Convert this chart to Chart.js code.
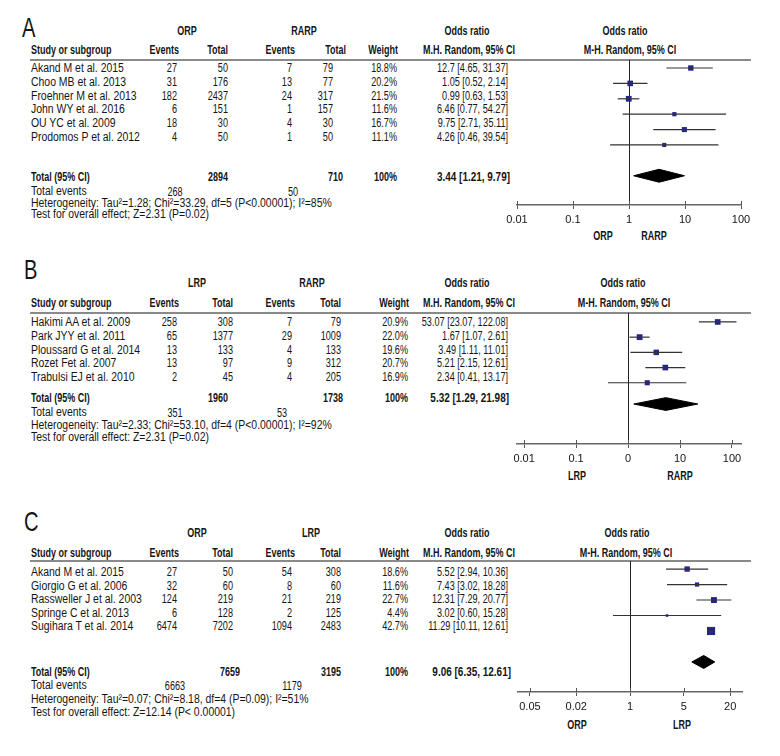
<!DOCTYPE html>
<html>
<head>
<meta charset="utf-8">
<script src="https://cdn.jsdelivr.net/npm/chart.js@4.4.0/dist/chart.umd.min.js"></script>
<style>
body { margin: 0; background: #fff; width: 780px; height: 756px; position: relative; overflow: hidden;
  font-family: "Liberation Sans", Arial, sans-serif; font-size: 12px; color: #151515; }
.t { position: absolute; white-space: nowrap; line-height: 14px; height: 14px; }
.b { font-weight: bold; font-size: 12px; }
.letter { position: absolute; font-size: 28px; line-height: 28px; transform: scaleX(0.72); transform-origin: left center; }
.rule { position: absolute; height: 2px; background: #8a8a8a; left: 30px; width: 721px; }
canvas { position: absolute; }
</style>
</head>
<body>
<script>
// ---- panel A : ORP vs RARP
const studiesA = ["Akand M et al. 2015", "Choo MB et al. 2013", "Froehner M et al. 2013", "John WY et al. 2016", "OU YC et al. 2009", "Prodomos P et al. 2012"]
const events1A = [27, 31, 182, 6, 18, 4]
const total1A = [50, 176, 2437, 151, 30, 50]
const events2A = [7, 13, 24, 1, 4, 1]
const total2A = [79, 77, 317, 157, 30, 50]
const weightA = [18.8, 20.2, 21.5, 11.6, 16.7, 11.1]
const orA = ["12.7", "1.05", "0.99", "6.46", "9.75", "4.26"]
const loA = ["4.65", "0.52", "0.63", "0.77", "2.71", "0.46"]
const hiA = ["31.37", "2.14", "1.53", "54.27", "35.11", "39.54"]
const sumTotalsA = [2894, 710]
const sumEventsA = [268, 50]
const pooledA = ["3.44", "1.21", "9.79"]
const hetA = "Heterogeneity: Tau²=1.28; Chi²=33.29, df=5 (P<0.00001); I²=85%"
const testA = "Test for overall effect; Z=2.31 (P=0.02)"
const tickValsA = [0.01, 0.1, 1, 10, 100]
const tickLabelsA = ["0.01", "0.1", "1", "10", "100"]

// ---- panel B : LRP vs RARP
const studiesB = ["Hakimi AA et al. 2009", "Park JYY et al. 2011", "Ploussard G et al. 2014", "Rozet Fet al. 2007", "Trabulsi EJ et al. 2010"]
const events1B = [258, 65, 13, 13, 2]
const total1B = [308, 1377, 133, 97, 45]
const events2B = [7, 29, 4, 9, 4]
const total2B = [79, 1009, 133, 312, 205]
const weightB = [20.9, 22.0, 19.6, 20.7, 16.9]
const orB = ["53.07", "1.67", "3.49", "5.21", "2.34"]
const loB = ["23.07", "1.07", "1.11", "2.15", "0.41"]
const hiB = ["122.08", "2.61", "11.01", "12.61", "13.17"]
const sumTotalsB = [1960, 1738]
const sumEventsB = [351, 53]
const pooledB = ["5.32", "1.29", "21.98"]
const hetB = "Heterogeneity: Tau²=2.33; Chi²=53.10, df=4 (P<0.00001); I²=92%"
const testB = "Test for overall effect: Z=2.31 (P=0.02)"
const tickValsB = [0.01, 0.1, 1, 10, 100]
const tickLabelsB = ["0.01", "0.1", "0", "10", "100"]

// ---- panel C : ORP vs LRP
const studiesC = ["Akand M et al. 2015", "Giorgio G et al. 2006", "Rassweller J et al. 2003", "Springe C et al. 2013", "Sugihara T et al. 2014"]
const events1C = [27, 32, 124, 6, 6474]
const total1C = [50, 60, 219, 128, 7202]
const events2C = [54, 8, 21, 2, 1094]
const total2C = [308, 60, 219, 125, 2483]
const weightC = [18.6, 11.6, 22.7, 4.4, 42.7]
const orC = ["5.52", "7.43", "12.31", "3.02", "11.29"]
const loC = ["2.94", "3.02", "7.29", "0.60", "10.11"]
const hiC = ["10.36", "18.28", "20.77", "15.28", "12.61"]
const sumTotalsC = [7659, 3195]
const sumEventsC = [6663, 1179]
const pooledC = ["9.06", "6.35", "12.61"]
const hetC = "Heterogeneity: Tau²=0.07; Chi²=8.18, df=4 (P=0.09); I²=51%"
const testC = "Test for overall effect: Z=12.14 (P< 0.00001)"
const tickValsC = [0.05, 0.2, 1, 5, 20]
const tickLabelsC = ["0.05", "0.02", "1", "5", "20"]

const FONT = '"Liberation Sans", Arial, sans-serif'
// squeeze factors to mimic the condensed face of the original
const NARROW = 0.87      // plain text
const NARROW_NUM = 0.76  // digit columns (the original has narrow figures)
const NARROW_BOLD = 0.75
const NARROW_BOLD_CI = 0.83

function put(text, x, y, align, bold, sx) {
  const d = document.createElement('div')
  d.className = 't' + (bold ? ' b' : '')
  d.textContent = text
  if (align === 'r') {
    d.style.left = (x - 300) + 'px'; d.style.width = '300px'; d.style.textAlign = 'right'
    d.style.transformOrigin = 'right center'
  } else if (align === 'c') {
    d.style.left = (x - 150) + 'px'; d.style.width = '300px'; d.style.textAlign = 'center'
    d.style.transformOrigin = 'center center'
  } else {
    d.style.left = x + 'px'
    d.style.transformOrigin = 'left center'
  }
  d.style.transform = 'scaleX(' + (sx || (bold ? NARROW_BOLD : NARROW)) + ')'
  d.style.top = (y - 7) + 'px'
  document.body.appendChild(d)
}

function drawTable(p, lay) {
  const l = document.createElement('div')
  l.className = 'letter'
  l.textContent = lay.letter
  l.style.left = lay.letterX + 'px'
  l.style.top = (lay.letterY - 14) + 'px'
  document.body.appendChild(l)

  put(p.groups[0], lay.groupX[0], lay.groupY, 'c', true)
  put(p.groups[1], lay.groupX[1], lay.groupY, 'c', true)
  put("Odds ratio", lay.odds1X, lay.groupY, 'c', true)
  put("Odds ratio", lay.odds2X, lay.groupY, 'c', true)

  put("Study or subgroup", 31, lay.headY, 'l', true)
  put("Events", lay.headR[0], lay.headY, 'r', true)
  put("Total", lay.headR[1], lay.headY, 'r', true)
  put("Events", lay.headR[2], lay.headY, 'r', true)
  put("Total", lay.headR[3], lay.headY, 'r', true)
  put("Weight", lay.headR[4], lay.headY, 'r', true)
  put("M.H. Random, 95% CI", 423, lay.headY, 'l', true)
  put("M-H. Random, 95% CI", lay.mh2X, lay.headY, 'c', true)

  const rule = document.createElement('div')
  rule.className = 'rule'
  rule.style.top = (lay.ruleY - 1) + 'px'
  document.body.appendChild(rule)

  p.studies.forEach((s, i) => {
    const y = lay.rowY0 + i * lay.rowDy
    put(s, 31, y, 'l')
    put(String(p.ev1[i]), lay.colR[0], y, 'r', false, NARROW_NUM)
    put(String(p.tot1[i]), lay.colR[1], y, 'r', false, NARROW_NUM)
    put(String(p.ev2[i]), lay.colR[2], y, 'r', false, NARROW_NUM)
    put(String(p.tot2[i]), lay.colR[3], y, 'r', false, NARROW_NUM)
    put(p.weight[i].toFixed(1) + '%', lay.colR[4], y, 'r', false, NARROW_NUM)
    put(p.or[i] + ' [' + p.lo[i] + ', ' + p.hi[i] + ']', lay.colR[5], y, 'r', false, NARROW_NUM)
  })

  put("Total (95% CI)", 31, lay.totalY, 'l', true)
  put(String(p.sumTotals[0]), lay.totR[0], lay.totalY, 'r', true)
  put(String(p.sumTotals[1]), lay.totR[1], lay.totalY, 'r', true)
  put("100%", lay.totR[2], lay.totalY, 'r', true)
  put(p.pooled[0] + ' [' + p.pooled[1] + ', ' + p.pooled[2] + ']', lay.totR[3], lay.totalY, 'r', true, NARROW_BOLD_CI)
  put("Total events", 31, lay.evY, 'l')
  put(String(p.sumEvents[0]), lay.evC[0], lay.evY + 1, 'c', false, NARROW_NUM)
  put(String(p.sumEvents[1]), lay.evC[1], lay.evY + 1, 'c', false, NARROW_NUM)
  put(p.het, 31, lay.hetY, 'l')
  put(p.test, 31, lay.testY, 'l')

  put(p.groups[0], lay.axisLabX[0], lay.axisLabY, 'c', true)
  put(p.groups[1], lay.axisLabX[1], lay.axisLabY, 'c', true)
}

const tickUp = {
  id: 'tickUp',
  afterDraw(c) {
    const s = c.scales.x, ctx = c.ctx
    ctx.save()
    ctx.strokeStyle = '#555'
    ctx.lineWidth = 1
    s.ticks.forEach(t => {
      const x = Math.round(s.getPixelForValue(t.value)) + 0.5
      ctx.beginPath()
      ctx.moveTo(x, s.top - 4)
      ctx.lineTo(x, s.top)
      ctx.stroke()
    })
    ctx.restore()
  }
}

function drawForest(p, lay) {
  const canvas = document.createElement('canvas')
  const w = (lay.areaR - lay.areaL) + 40
  const h = (lay.areaB - lay.areaT) + 10 + 30
  canvas.width = w
  canvas.height = h
  canvas.style.left = (lay.areaL - 20) + 'px'
  canvas.style.top = (lay.areaT - 10) + 'px'
  canvas.style.width = w + 'px'
  canvas.style.height = h + 'px'
  document.body.appendChild(canvas)

  const datasets = p.or.map((v, i) => ({
    type: 'line',
    data: [{ x: Number(p.lo[i]), y: i }, { x: Number(p.hi[i]), y: i }],
    borderColor: '#333', borderWidth: 1.2, pointRadius: 0, fill: false
  }))
  datasets.push({
    type: 'scatter',
    data: p.or.map((v, i) => ({ x: Number(v), y: i })),
    pointStyle: 'rect',
    pointRadius: p.weight.map(wt => 0.62 * Math.sqrt(wt) / Math.SQRT1_2),
    backgroundColor: '#25258a', borderColor: '#25258a', borderWidth: 0
  })
  const T = p.studies.length - 1 + lay.totalGap, dh = 0.42
  const est = Number(p.pooled[0]), lo = Number(p.pooled[1]), hi = Number(p.pooled[2])
  datasets.push({
    type: 'line',
    data: [{ x: lo, y: T }, { x: est, y: T - dh }, { x: hi, y: T }, { x: est, y: T + dh }, { x: lo, y: T }],
    borderColor: '#000', backgroundColor: '#000', borderWidth: 1, pointRadius: 0, tension: 0, fill: 'shape'
  })

  new Chart(canvas, {
    type: 'scatter',
    data: { datasets: datasets },
    options: {
      responsive: false,
      animation: false,
      events: [],
      layout: { padding: { left: 20, right: 20, top: 10, bottom: 0 } },
      plugins: { legend: { display: false }, tooltip: { enabled: false } },
      scales: {
        x: {
          type: 'logarithmic',
          min: lay.xMin, max: lay.xMax,
          afterBuildTicks: s => { s.ticks = p.tickVals.map(v => ({ value: v })) },
          afterFit: s => { s.height = 30 },
          ticks: {
            autoSkip: false, maxRotation: 0, padding: 4, color: '#151515',
            font: { family: FONT, size: 11 },
            callback: (v, i) => p.tickLabels[i]
          },
          grid: {
            color: ctx => (ctx.tick && ctx.tick.value === 1) ? '#222' : 'rgba(0,0,0,0)',
            lineWidth: 1, tickLength: 4, tickColor: '#555'
          },
          border: { display: true, color: '#666', width: 1.5 }
        },
        y: { type: 'linear', reverse: true, min: lay.yMin, max: lay.yMax, display: false }
      }
    },
    plugins: [tickUp]
  })
}

const panelA = { studies: studiesA, ev1: events1A, tot1: total1A, ev2: events2A, tot2: total2A, weight: weightA,
  or: orA, lo: loA, hi: hiA, sumTotals: sumTotalsA, sumEvents: sumEventsA, pooled: pooledA, het: hetA, test: testA,
  groups: ["ORP", "RARP"], tickVals: tickValsA, tickLabels: tickLabelsA }
const panelB = { studies: studiesB, ev1: events1B, tot1: total1B, ev2: events2B, tot2: total2B, weight: weightB,
  or: orB, lo: loB, hi: hiB, sumTotals: sumTotalsB, sumEvents: sumEventsB, pooled: pooledB, het: hetB, test: testB,
  groups: ["LRP", "RARP"], tickVals: tickValsB, tickLabels: tickLabelsB }
const panelC = { studies: studiesC, ev1: events1C, tot1: total1C, ev2: events2C, tot2: total2C, weight: weightC,
  or: orC, lo: loC, hi: hiC, sumTotals: sumTotalsC, sumEvents: sumEventsC, pooled: pooledC, het: hetC, test: testC,
  groups: ["ORP", "LRP"], tickVals: tickValsC, tickLabels: tickLabelsC }

const layA = { letter: "A", letterX: 22, letterY: 28, groupY: 31, groupX: [187, 304], odds1X: 467, odds2X: 625, mh2X: 630,
  headY: 50, ruleY: 60, rowY0: 68, rowDy: 13.8, colR: [177, 228, 292, 333, 397, 508], headR: [179, 228, 295, 346, 398],
  totalY: 177, totR: [228, 343, 397, 510], evY: 191, evC: [175, 293], hetY: 203, testY: 214,
  axisLabY: 236, axisLabX: [603, 654],
  areaL: 517, areaR: 741, areaT: 60, areaB: 205, xMin: 0.01, xMax: 100, yMin: -0.52, yMax: 8.9, totalGap: 2 }
const layB = { letter: "B", letterX: 24, letterY: 270, groupY: 283, groupX: [197, 312], odds1X: 467, odds2X: 623, mh2X: 624,
  headY: 303, ruleY: 313, rowY0: 322, rowDy: 13.75, colR: [177, 233, 292, 341, 408, 508], headR: [179, 233, 295, 341, 409],
  totalY: 398, totR: [228, 343, 408, 509], evY: 412, evC: [175, 282], hetY: 425, testY: 437,
  axisLabY: 476, axisLabX: [577, 680],
  areaL: 517, areaR: 741, areaT: 313, areaB: 444, xMin: 0.0073, xMax: 149, yMin: -0.59, yMax: 8.03, totalGap: 1.4 }
const layC = { letter: "C", letterX: 24, letterY: 522, groupY: 533, groupX: [197, 311], odds1X: 467, odds2X: 627, mh2X: 626,
  headY: 553, ruleY: 561, rowY0: 572, rowDy: 13.5, colR: [177, 233, 292, 341, 408, 508], headR: [179, 233, 295, 341, 409],
  totalY: 672, totR: [240, 341, 408, 511], evY: 685, evC: [175, 292], hetY: 699, testY: 712,
  axisLabY: 725, axisLabX: [577, 682],
  areaL: 518, areaR: 742, areaT: 561, areaB: 692, xMin: 0.035, xMax: 28.5, yMin: -0.52, yMax: 7.94, totalGap: 2 }

drawTable(panelA, layA)
drawTable(panelB, layB)
drawTable(panelC, layC)
drawForest(panelA, layA)
drawForest(panelB, layB)
drawForest(panelC, layC)
</script>
</body>
</html>
